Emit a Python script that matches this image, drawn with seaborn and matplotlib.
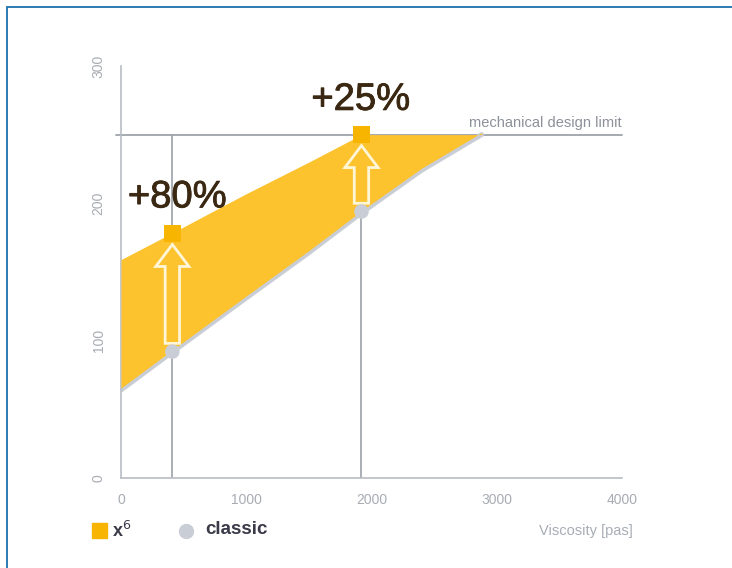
import matplotlib
matplotlib.use("Agg")
import matplotlib.pyplot as plt
import matplotlib.patheffects as pe
from matplotlib.patches import FancyArrow
from matplotlib.lines import Line2D
import seaborn as sns
import pandas as pd

# Operating envelope: viscosity [pas] vs. capacity
viscosity = [0, 400, 1000, 1500, 1920, 2400, 2880]
classic_curve = [64, 91, 131, 164, 193, 224, 250]
x6_curve = [159, 178, 207, 230, 250, 250, 250]

# Highlighted comparison points
point_visc = [410, 1920]
classic_points = [92, 194]
x6_points = [178, 250]
gain_labels = ["+80%", "+25%"]

design_limit = 250
x_ticks = [0, 1000, 2000, 3000, 4000]
y_ticks = [0, 100, 200, 300]

YELLOW = "#fcc32e"
MARKER_YELLOW = "#f7b500"
GREY_CURVE = "#c9cdd6"
AXIS_GREY = "#b9bdc5"
TEXT_BROWN = "#3a2812"

sns.set_theme(style="white")
plt.rcParams["font.family"] = ["Liberation Sans", "DejaVu Sans"]

fig = plt.figure(figsize=(7.32, 5.68), dpi=100)
ax = fig.add_axes([0.1653, 0.1585, 0.6844, 0.7254])

curve_df = pd.DataFrame({"viscosity": viscosity, "classic": classic_curve, "x6": x6_curve})

# vertical guides at the comparison points
for xv in point_visc:
    ax.plot([xv, xv], [0, design_limit], color="#a4a8b0", lw=1.3, zorder=1)

# mechanical design limit
ax.plot([-40, 4000], [design_limit, design_limit], color="#9ea2aa", lw=1.3, zorder=1,
        clip_on=False)
ax.text(4000, design_limit + 3, "mechanical design limit", ha="right", va="bottom",
        fontsize=10.5, color="#8c9098")

# classic curve, partly covered by the x6 band
sns.lineplot(data=curve_df, x="viscosity", y="classic", color=GREY_CURVE, lw=3.5,
             ax=ax, zorder=2)
ax.fill_between(curve_df["viscosity"], curve_df["classic"] + 1.5, curve_df["x6"],
                color=YELLOW, lw=0, zorder=3)

# up arrows showing the gain
for xv, lo, hi in zip(point_visc, classic_points, x6_points):
    length = (hi - 8) - (lo + 6)
    arr = FancyArrow(xv, lo + 6, 0, length, width=115, head_width=265,
                     head_length=16, length_includes_head=True,
                     facecolor=YELLOW, edgecolor="#fff6d8", lw=2, zorder=4)
    ax.add_patch(arr)

pts_df = pd.DataFrame({"viscosity": point_visc, "classic": classic_points, "x6": x6_points})
sns.scatterplot(data=pts_df, x="viscosity", y="classic", marker="o", s=110,
                color=GREY_CURVE, edgecolor="none", ax=ax, zorder=5, clip_on=False)
sns.scatterplot(data=pts_df, x="viscosity", y="x6", marker="s", s=150,
                color=MARKER_YELLOW, edgecolor="none", ax=ax, zorder=5, clip_on=False)

# gain labels
gain_fx = [pe.withStroke(linewidth=0.6, foreground=TEXT_BROWN)]
ax.text(55, 197, gain_labels[0], fontsize=27.5, color=TEXT_BROWN, ha="left",
        va="baseline", zorder=6, path_effects=gain_fx)
ax.text(1520, 268, gain_labels[1], fontsize=27.5, color=TEXT_BROWN, ha="left",
        va="baseline", zorder=6, path_effects=gain_fx)

ax.set_xlim(0, 4000)
ax.set_ylim(0, 300)
ax.set_xticks(x_ticks)
ax.set_yticks(y_ticks)
ax.set_xticks([i * 4000 / 12 for i in range(13)], minor=True)
ax.set_yticks([50, 150, 250], minor=True)
ax.set_xlabel("")
ax.set_ylabel("")

for side in ("top", "right"):
    ax.spines[side].set_visible(False)
for side in ("left", "bottom"):
    ax.spines[side].set_color(AXIS_GREY)
    ax.spines[side].set_linewidth(1.2)

ax.tick_params(axis="both", which="both", direction="out", colors=AXIS_GREY,
               length=5, width=1.1, labelsize=10, labelcolor="#a8acb2", pad=6)
ax.tick_params(axis="x", which="minor", length=5)
for lbl in ax.get_yticklabels():
    lbl.set_rotation(90)
    lbl.set_va("center")

# legend row
fig.patches.append(plt.Rectangle((92 / 732, 1 - 538 / 568), 15 / 732, 15 / 568,
                                 transform=fig.transFigure, color=MARKER_YELLOW))
fig.text(112 / 732, 1 - 531 / 568, "x$^6$", fontsize=13, color="#3a3a48",
         fontweight="bold", va="center", ha="left")
fig.add_artist(Line2D([186 / 732], [1 - 531 / 568], marker="o", ms=10,
                      color=GREY_CURVE, transform=fig.transFigure, lw=0))
fig.text(205 / 732, 1 - 529 / 568, "classic", fontsize=13.5, color="#3a3a48",
         fontweight="bold", va="center", ha="left")
fig.text(633 / 732, 1 - 531 / 568, "Viscosity [pas]", fontsize=10.5, color="#a8acb4",
         va="center", ha="right")

# page frame
fig.add_artist(Line2D([7 / 732, 7 / 732], [0, 1 - 7 / 568], color="#2b7bb2", lw=1.4,
                      transform=fig.transFigure))
fig.add_artist(Line2D([7 / 732, 1], [1 - 7 / 568, 1 - 7 / 568], color="#2b7bb2", lw=1.4,
                      transform=fig.transFigure))

fig.savefig("out.png", dpi=100)
